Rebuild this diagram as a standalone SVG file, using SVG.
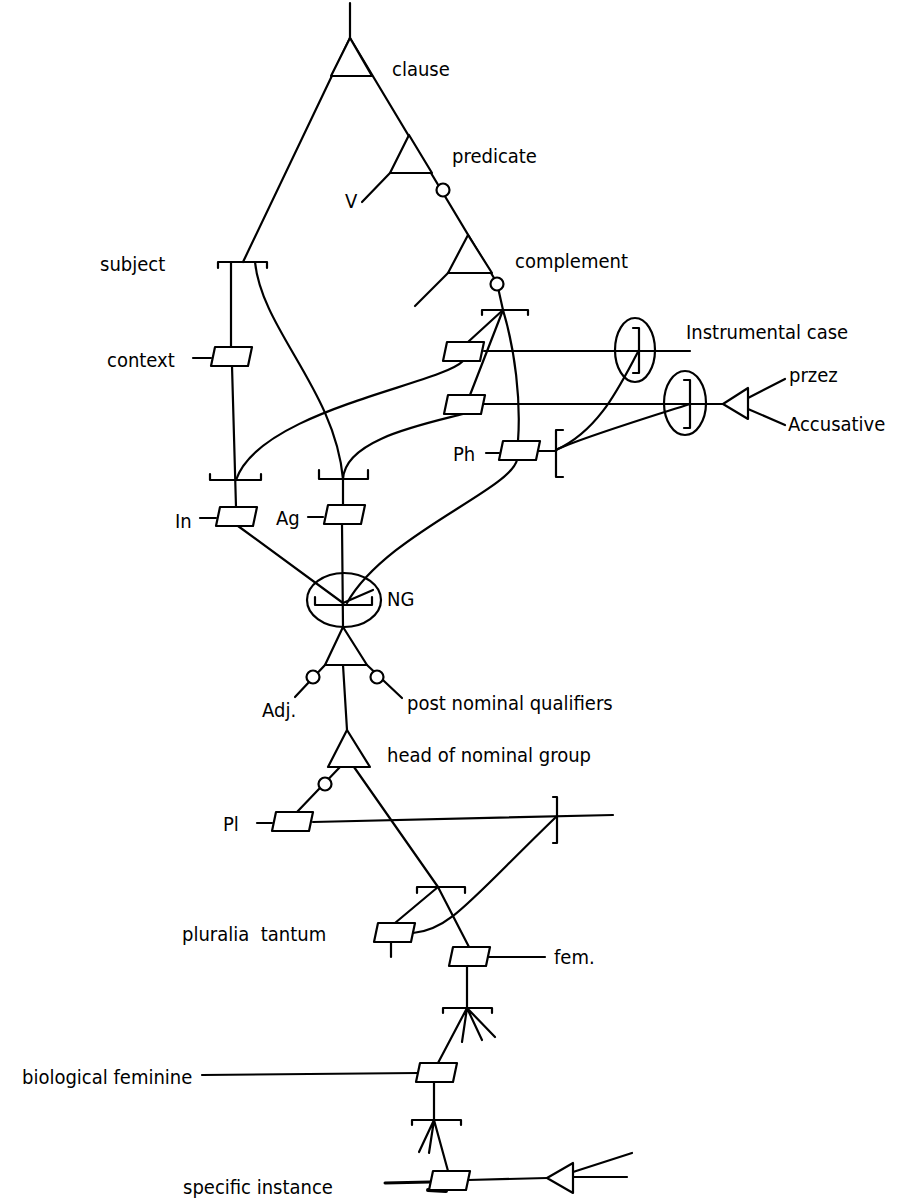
<svg xmlns="http://www.w3.org/2000/svg" xmlns:xlink="http://www.w3.org/1999/xlink" width="902" height="1201" viewBox="0 0 902 1201">
<style>
.ln{fill:none;stroke:#000;stroke-width:2.2;stroke-linecap:round;stroke-linejoin:round}
.sh{fill:#fff;stroke:#000;stroke-width:2.2;stroke-linejoin:round}
text{font-family:"DejaVu Sans Condensed","DejaVu Sans","Liberation Sans",sans-serif;font-stretch:condensed;font-size:20px;fill:#000}
</style>
<defs>
<path id="pg" d="M0,0 H37 L33,19 H-4 Z"/>
</defs>
<rect width="902" height="1201" fill="#fff"/>

<g id="connectors" class="ln">
<path d="M350,3 V38"/>
<path d="M350,38 L243,262"/>
<path d="M350,38 L497,283 L503,310"/>
<path d="M390,173 L362,202"/>
<path d="M448,273 L415,306"/>
<path d="M218,268 V262 H267 V268"/>
<path d="M231,262 V347"/>
<path d="M232,366 L236,507"/>
<path d="M255,262 C262,330 335,390 343,479"/>
<path d="M210,474 V480 H261 V474"/>
<path d="M319,470 V479 H368 V470"/>
<path d="M343,479 V505"/>
<path d="M463,361 C440,385 260,410 236,480"/>
<path d="M463,414 C420,425 345,440 343,479"/>
<path d="M482,315 V310 H528 V315"/>
<path d="M503,310 L468,342"/>
<path d="M503,310 L470,395"/>
<path d="M503,310 C515,350 521,400 518,441"/>
<path d="M484,351 H690"/>
<path d="M484,404 H723"/>
<path d="M633,328 H639 V373 H633"/>
<path d="M684,380 H690 V428 H684"/>
<path d="M639,350 C620,385 600,430 556,450"/>
<path d="M556,450 C575,440 640,420 690,404"/>
<path d="M537,451 H556"/>
<path d="M563,430 H556 V477 H563"/>
<path d="M748,398 L785,379"/>
<path d="M748,409 L785,425"/>
<path d="M517,460 C510,490 385,535 347,603"/>
<path d="M238,526 L343,603"/>
<path d="M342,524 L343,627"/>
<path d="M343,603 L373,590"/>
<path d="M315,597 V605 H372 V597"/>
<path d="M325,665 L295,697"/>
<path d="M367,665 L402,698"/>
<path d="M343,665 L347,730"/>
<path d="M340,767 L297,812"/>
<path d="M354,767 L438,887 L469,947"/>
<path d="M313,822 L613,815"/>
<path d="M553,797 H557 V843 H553"/>
<path d="M417,893 V887 H465 V893"/>
<path d="M438,887 L395,923"/>
<path d="M391,942 V957"/>
<path d="M413,933 C450,930 470,900 557,816"/>
<path d="M489,957 H545"/>
<path d="M467,965 V1008"/>
<path d="M443,1013 V1008 H492 V1013"/>
<path d="M467,1008 L438,1063 M467,1008 L462,1042 M467,1008 L482,1040 M467,1008 L495,1037"/>
<path d="M202,1075 L418,1073"/>
<path d="M434,1083 V1120"/>
<path d="M412,1125 V1120 H461 V1125"/>
<path d="M434,1120 L419,1152 M434,1120 L429,1153 M434,1120 L448,1171"/>
<path d="M385,1183 L430,1182" stroke-width="3"/>
<path d="M428,1190 L446,1191" stroke-width="4"/>
<path d="M468,1180 L547,1178"/>
<path d="M573,1172 L632,1153"/>
<path d="M573,1177 L627,1177"/>
<path d="M193,358 H211"/>
<path d="M200,518 H216"/>
<path d="M308,517 H323"/>
<path d="M486,453 H499"/>
<path d="M257,823 H272"/>
</g>

<g id="clause">
<polygon class="sh" points="350,38 331,76 372,76"/>
<text x="392" y="76">clause</text>
</g>
<g id="predicate">
<polygon class="sh" points="409,135 390,173 432,173"/>
<circle class="sh" cx="443" cy="190" r="6.5"/>
<text x="452" y="163">predicate</text>
<text x="345" y="208">V</text>
</g>
<g id="complement">
<polygon class="sh" points="468,235 448,273 492,273"/>
<circle class="sh" cx="497" cy="284" r="6.5"/>
<text x="515" y="268">complement</text>
</g>
<g id="subject"><text x="100" y="271">subject</text></g>
<g id="context">
<use href="#pg" xlink:href="#pg" class="sh" x="215" y="347"/>
<text x="107" y="367">context</text>
</g>
<g id="instrumental-box"><use href="#pg" xlink:href="#pg" class="sh" x="447" y="342"/></g>
<g id="accusative-box"><use href="#pg" xlink:href="#pg" class="sh" x="448" y="395"/></g>
<g id="instrumental-case">
<ellipse class="ln" cx="635" cy="350" rx="20" ry="32"/>
<text x="686" y="339">Instrumental case</text>
</g>
<g id="przez-accusative">
<ellipse class="ln" cx="685" cy="403" rx="21" ry="32"/>
<polygon class="sh" points="723,404 748,388 748,419"/>
<text x="789" y="382">przez</text>
<text x="788" y="431">Accusative</text>
</g>
<g id="Ph">
<use href="#pg" xlink:href="#pg" class="sh" x="503" y="441"/>
<text x="453" y="461">Ph</text>
</g>
<g id="In">
<use href="#pg" xlink:href="#pg" class="sh" x="220" y="507"/>
<text x="175" y="528">In</text>
</g>
<g id="Ag">
<use href="#pg" xlink:href="#pg" class="sh" x="328" y="505"/>
<text x="276" y="525">Ag</text>
</g>
<g id="NG">
<ellipse class="ln" cx="344" cy="600" rx="37" ry="27"/>
<text x="387" y="606">NG</text>
</g>
<g id="nominal-group">
<polygon class="sh" points="343,627 325,665 367,665"/>
<circle class="sh" cx="313" cy="677" r="6.5"/>
<circle class="sh" cx="377" cy="677" r="6.5"/>
<text x="262" y="717">Adj.</text>
<text x="407" y="710">post nominal qualifiers</text>
</g>
<g id="head">
<polygon class="sh" points="347,730 328,767 370,767"/>
<circle class="sh" cx="325" cy="784" r="6.5"/>
<text x="387" y="762">head of nominal group</text>
</g>
<g id="Pl">
<use href="#pg" xlink:href="#pg" class="sh" x="276" y="812"/>
<text x="223" y="831">Pl</text>
</g>
<g id="pluralia-tantum">
<use href="#pg" xlink:href="#pg" class="sh" x="378" y="923"/>
<text x="182" y="941" xml:space="preserve">pluralia  tantum</text>
</g>
<g id="fem">
<use href="#pg" xlink:href="#pg" class="sh" x="453" y="947"/>
<text x="554" y="964">fem.</text>
</g>
<g id="biological-feminine">
<use href="#pg" xlink:href="#pg" class="sh" x="420" y="1063"/>
<text x="22" y="1084">biological feminine</text>
</g>
<g id="specific-instance">
<use href="#pg" xlink:href="#pg" class="sh" x="433" y="1171"/>
<polygon class="sh" points="547,1178 573,1163 573,1193"/>
<text x="183" y="1194">specific instance</text>
</g>
</svg>
